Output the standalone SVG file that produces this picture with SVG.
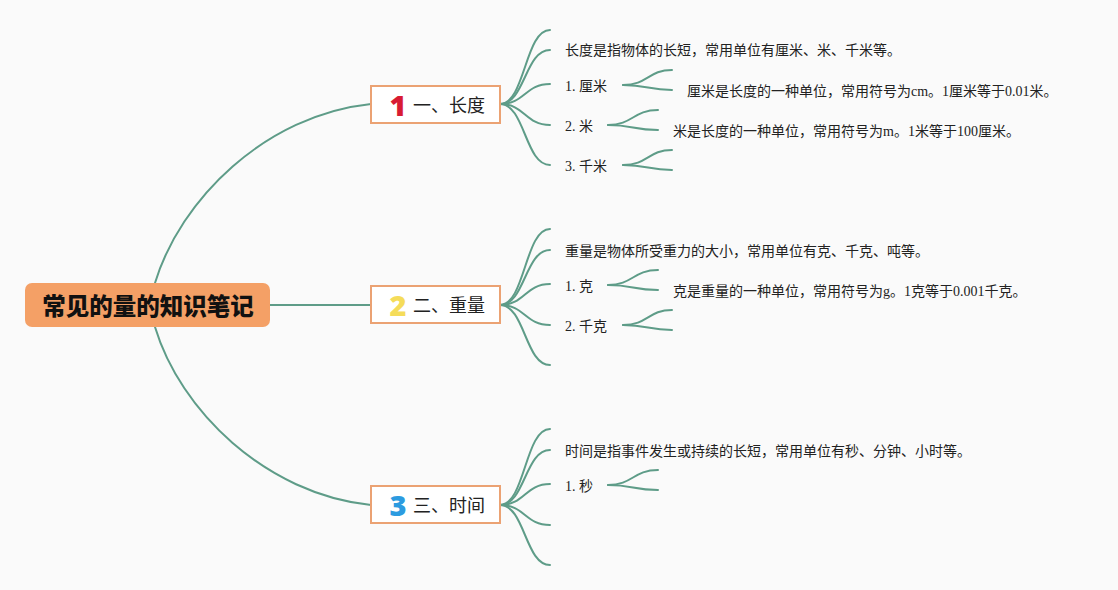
<svg xmlns="http://www.w3.org/2000/svg" width="1118" height="590" viewBox="0 0 1118 590">
<style>
.ln{fill:none;stroke:#5E9C88;stroke-width:2;stroke-linecap:round}
.box{fill:#FFFFFF;stroke:#EBA273;stroke-width:2}
.bt{font-family:"Noto Sans CJK SC","Noto Sans",sans-serif;font-size:18px;fill:#222}
.num{font-family:"Noto Sans","Liberation Sans",sans-serif;font-weight:900;font-size:29px}
.t{font-family:"Liberation Serif","Noto Sans CJK SC",serif;font-size:14px;fill:#222}
</style>
<rect width="1118" height="590" fill="#FAFAFA"/>
<g id="connectors">
<path class="ln" d="M155,283 C180,200 265,115 371,104"/>
<path class="ln" d="M270,305 L371,305"/>
<path class="ln" d="M155,327 C180,410 265,494 371,505"/>
<path class="ln" d="M500,104 C525,104 525,30 550,30"/>
<path class="ln" d="M500,104 C525,104 525,50 550,50"/>
<path class="ln" d="M500,104 C525,104 525,84 550,84"/>
<path class="ln" d="M500,104 C525,104 525,125 550,125"/>
<path class="ln" d="M500,104 C525,104 525,165 550,165"/>
<path class="ln" d="M623,85 C648,85 648,70 672,70"/>
<path class="ln" d="M623,85 C648,85 648,90 672,90"/>
<path class="ln" d="M608,125 C633,125 633,110 658,110"/>
<path class="ln" d="M608,125 C633,125 633,130 658,130"/>
<path class="ln" d="M623,165 C648,165 648,150 672,150"/>
<path class="ln" d="M623,165 C648,165 648,170 672,170"/>
<path class="ln" d="M500,305 C525,305 525,229 550,229"/>
<path class="ln" d="M500,305 C525,305 525,250 550,250"/>
<path class="ln" d="M500,305 C525,305 525,284 550,284"/>
<path class="ln" d="M500,305 C525,305 525,325 550,325"/>
<path class="ln" d="M500,305 C525,305 525,365 550,365"/>
<path class="ln" d="M608,285 C633,285 633,270 658,270"/>
<path class="ln" d="M608,285 C633,285 633,290 658,290"/>
<path class="ln" d="M623,325 C648,325 648,310 672,310"/>
<path class="ln" d="M623,325 C648,325 648,330 672,330"/>
<path class="ln" d="M500,505 C525,505 525,429 550,429"/>
<path class="ln" d="M500,505 C525,505 525,450 550,450"/>
<path class="ln" d="M500,505 C525,505 525,484 550,484"/>
<path class="ln" d="M500,505 C525,505 525,525 550,525"/>
<path class="ln" d="M500,505 C525,505 525,565 550,565"/>
<path class="ln" d="M608,485 C633,485 633,470 658,470"/>
<path class="ln" d="M608,485 C633,485 633,490 658,490"/>
</g>
<g id="root">
<rect x="25" y="283" width="245" height="44" rx="7" fill="#F4A066"/>
<text x="148" y="315" text-anchor="middle" font-family="Noto Sans CJK SC,sans-serif" font-weight="900" font-size="23.5" fill="#111">常见的量的知识笔记</text>
</g>
<g id="b1">
<rect class="box" x="371" y="86" width="129" height="37"/>
<text class="num" x="398" y="116" text-anchor="middle" fill="#D81B33">1</text>
<text class="bt" x="413" y="112">一、长度</text>
</g>
<g id="b2">
<rect class="box" x="371" y="286" width="129" height="37"/>
<text class="num" x="398" y="316" text-anchor="middle" fill="#F5DC5A">2</text>
<text class="bt" x="413" y="312">二、重量</text>
</g>
<g id="b3">
<rect class="box" x="371" y="486" width="129" height="37"/>
<text class="num" x="398" y="516" text-anchor="middle" fill="#2C9BE0">3</text>
<text class="bt" x="413" y="512">三、时间</text>
</g>
<g id="n1a"><text class="t" x="565" y="55">长度是指物体的长短，常用单位有厘米、米、千米等。</text></g>
<g id="n1b"><text class="t" x="565" y="91">1. 厘米</text></g>
<g id="n1b1"><text class="t" x="687" y="96">厘米是长度的一种单位，常用符号为cm。1厘米等于0.01米。</text></g>
<g id="n1c"><text class="t" x="565" y="131">2. 米</text></g>
<g id="n1c1"><text class="t" x="673" y="136">米是长度的一种单位，常用符号为m。1米等于100厘米。</text></g>
<g id="n1d"><text class="t" x="565" y="171">3. 千米</text></g>
<g id="n2a"><text class="t" x="565" y="256">重量是物体所受重力的大小，常用单位有克、千克、吨等。</text></g>
<g id="n2b"><text class="t" x="565" y="291">1. 克</text></g>
<g id="n2b1"><text class="t" x="673" y="296">克是重量的一种单位，常用符号为g。1克等于0.001千克。</text></g>
<g id="n2c"><text class="t" x="565" y="331">2. 千克</text></g>
<g id="n3a"><text class="t" x="565" y="456">时间是指事件发生或持续的长短，常用单位有秒、分钟、小时等。</text></g>
<g id="n3b"><text class="t" x="565" y="491">1. 秒</text></g>
</svg>
